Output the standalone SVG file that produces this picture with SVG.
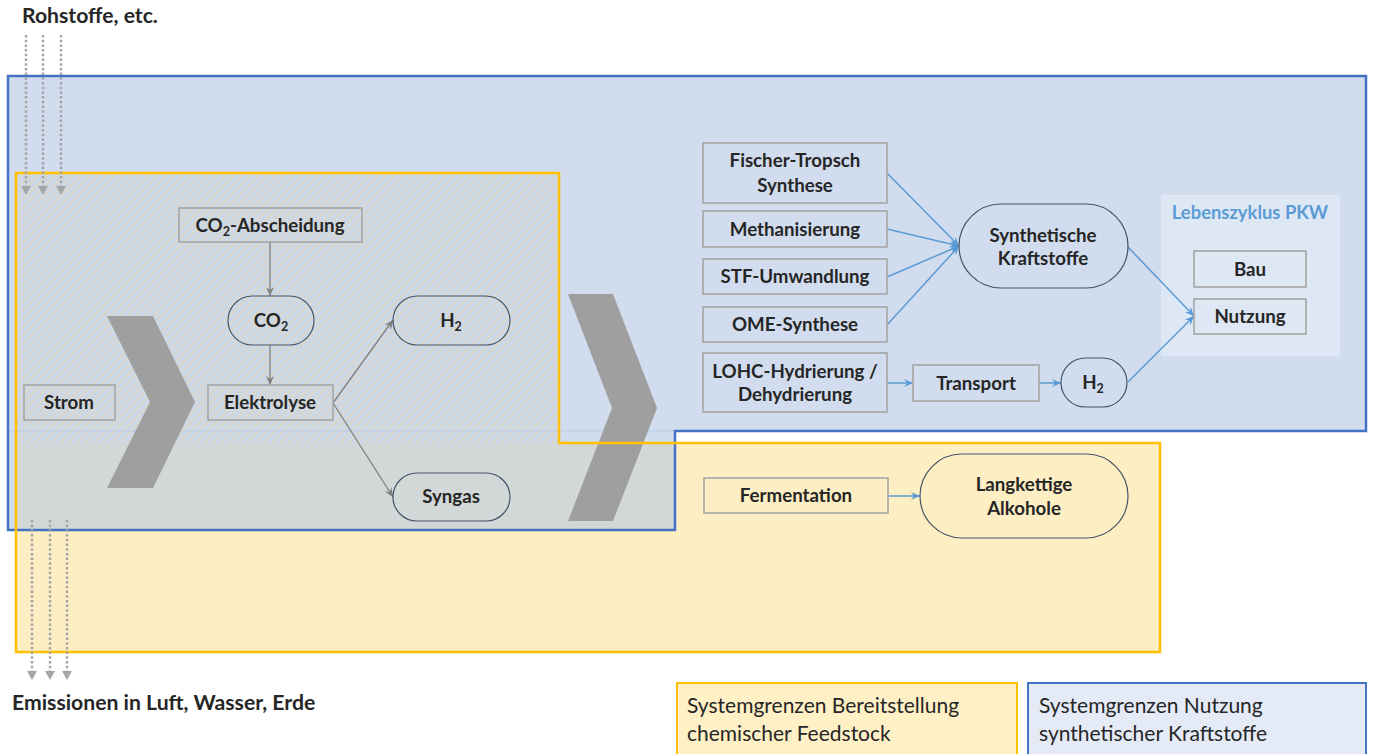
<svg xmlns="http://www.w3.org/2000/svg" width="1373" height="754" viewBox="0 0 1373 754">
<defs>
<style>
.t{font-family:Lato,"Liberation Sans",sans-serif;font-weight:bold;font-size:18.7px;fill:#262626;text-anchor:middle}
.big{font-family:Lato,"Liberation Sans",sans-serif;font-weight:bold;font-size:21.2px;fill:#262626}
.leg{font-family:Lato,"Liberation Sans",sans-serif;font-size:21px;fill:#262626}
.sub{font-size:12.5px}
.box{fill:none;stroke:#a5a5a5;stroke-width:1.6}
.pill{fill:none;stroke:#44546a;stroke-width:1.2}
.ga{stroke:#808080;stroke-width:1.3;fill:none;marker-end:url(#mg)}
.ba{stroke:#5b9bd5;stroke-width:1.5;fill:none;marker-end:url(#mb)}
.dot{stroke:#a6a6a6;stroke-width:2.5;stroke-dasharray:2.5 2.2;fill:none;marker-end:url(#md)}
.chev{fill:#9f9f9f}
</style>
<pattern id="hatch" width="6" height="6" patternUnits="userSpaceOnUse" patternTransform="rotate(45)">
<rect width="6" height="6" fill="#cbd8ea"/>
<rect width="3" height="6" fill="#d6d7d1"/>
</pattern>
<marker id="mg" markerWidth="10" markerHeight="10" refX="9" refY="5" orient="auto" markerUnits="userSpaceOnUse"><path d="M0,1 L9,5 L0,9 L3,5 z" fill="#808080"/></marker>
<marker id="mb" markerWidth="10" markerHeight="10" refX="9" refY="5" orient="auto" markerUnits="userSpaceOnUse"><path d="M0,1 L9,5 L0,9 L3,5 z" fill="#5b9bd5"/></marker>
<marker id="md" markerWidth="12" markerHeight="12" refX="4" refY="5" orient="auto" markerUnits="userSpaceOnUse"><path d="M0,0 L9,5 L0,10 z" fill="#a6a6a6"/></marker>
</defs>
<rect width="1373" height="754" fill="#ffffff"/>
<g id="boundaries">
<polygon points="8,76 1366,76 1366,431 675,431 675,530 8,530" fill="#d1ddee"/>
<polygon points="16,173 559,173 559,443 1160,443 1160,652 16,652" fill="#fdefc3"/>
<rect x="16" y="173" width="543" height="270" fill="url(#hatch)"/>
<rect x="16" y="443" width="659" height="87" fill="#d2d7d8"/>
<line x1="9" y1="431" x2="675" y2="431" stroke="#b8cbe8" stroke-width="1"/>
</g>
<g id="lebenszyklus">
<rect x="1161" y="195" width="179" height="161" fill="#dee7f4"/>
<text x="1250" y="219" style="font-family:Lato,'Liberation Sans',sans-serif;font-weight:bold;font-size:18.4px;fill:#5b9bd5;text-anchor:middle">Lebenszyklus PKW</text>
</g>
<g id="chevrons">
<polygon class="chev" points="107,316 153,316 195,402 153,488 107,488 150,402"/>
<polygon class="chev" points="568,294 613,294 657,408 613,521 568,521 612,408"/>
</g>
<g id="boundary-lines">
<polygon points="8,76 1366,76 1366,431 675,431 675,530 8,530" fill="none" stroke="#4472c4" stroke-width="2.5"/>
<polygon points="16,173 559,173 559,443 1160,443 1160,652 16,652" fill="none" stroke="#ffc000" stroke-width="2.5"/>
</g>
<g id="connectors">
<line class="dot" x1="26" y1="35" x2="26" y2="190"/>
<line class="dot" x1="43" y1="35" x2="43" y2="190"/>
<line class="dot" x1="61" y1="35" x2="61" y2="190"/>
<line class="dot" x1="32" y1="520" x2="32" y2="675"/>
<line class="dot" x1="50" y1="520" x2="50" y2="675"/>
<line class="dot" x1="67" y1="520" x2="67" y2="675"/>
<line class="ga" x1="270" y1="242" x2="270" y2="296"/>
<line class="ga" x1="270" y1="345" x2="270" y2="385"/>
<line class="ga" x1="333" y1="403" x2="393" y2="320"/>
<line class="ga" x1="333" y1="403" x2="393" y2="497"/>
<line class="ba" x1="887" y1="173" x2="959" y2="246"/>
<line class="ba" x1="887" y1="229" x2="959" y2="246"/>
<line class="ba" x1="887" y1="277" x2="959" y2="246"/>
<line class="ba" x1="887" y1="325" x2="959" y2="246"/>
<line class="ba" x1="887" y1="383" x2="913" y2="383"/>
<line class="ba" x1="1039" y1="383" x2="1061" y2="383"/>
<line class="ba" x1="1128" y1="247" x2="1194" y2="316"/>
<line class="ba" x1="1128" y1="382" x2="1194" y2="316"/>
<line class="ba" x1="888" y1="496" x2="920" y2="496"/>
</g>
<g id="rohstoffe"><text class="big" x="22" y="23">Rohstoffe, etc.</text></g>
<g id="emissionen"><text class="big" x="12" y="710">Emissionen in Luft, Wasser, Erde</text></g>
<g id="co2-abscheidung"><rect class="box" x="179" y="208" width="183" height="34"/><text class="t" x="270" y="231.5">CO<tspan class="sub" dy="4">2</tspan><tspan dy="-4">-Abscheidung</tspan></text></g>
<g id="co2"><rect class="pill" x="228" y="296" width="86" height="49" rx="24.5"/><text class="t" x="271" y="327">CO<tspan class="sub" dy="4">2</tspan></text></g>
<g id="h2-left"><rect class="pill" x="393" y="296" width="117" height="49" rx="24.5"/><text class="t" x="451" y="327">H<tspan class="sub" dy="4">2</tspan></text></g>
<g id="elektrolyse"><rect class="box" x="208" y="385" width="125" height="35"/><text class="t" x="270" y="409">Elektrolyse</text></g>
<g id="strom"><rect class="box" x="24" y="385" width="91" height="35"/><text class="t" x="69" y="409">Strom</text></g>
<g id="syngas"><rect class="pill" x="393" y="473" width="117" height="48" rx="24"/><text class="t" x="451" y="503">Syngas</text></g>
<g id="fischer-tropsch"><rect class="box" x="703" y="143" width="184" height="60"/><text class="t" x="795" y="167">Fischer-Tropsch</text><text class="t" x="795" y="192">Synthese</text></g>
<g id="methanisierung"><rect class="box" x="703" y="211" width="184" height="36"/><text class="t" x="795" y="236">Methanisierung</text></g>
<g id="stf-umwandlung"><rect class="box" x="703" y="259" width="184" height="35"/><text class="t" x="795" y="283">STF-Umwandlung</text></g>
<g id="ome-synthese"><rect class="box" x="703" y="307" width="184" height="35"/><text class="t" x="795" y="331">OME-Synthese</text></g>
<g id="lohc"><rect class="box" x="703" y="353" width="184" height="59"/><text class="t" x="795" y="378">LOHC-Hydrierung /</text><text class="t" x="795" y="401">Dehydrierung</text></g>
<g id="transport"><rect class="box" x="913" y="365" width="126" height="36"/><text class="t" x="976" y="389.5">Transport</text></g>
<g id="h2-right"><rect class="pill" x="1061" y="358" width="66" height="49" rx="24.5"/><text class="t" x="1093" y="389">H<tspan class="sub" dy="4">2</tspan></text></g>
<g id="synthetische-kraftstoffe"><rect class="pill" x="959" y="204" width="169" height="84" rx="42"/><text class="t" x="1043" y="242">Synthetische</text><text class="t" x="1043" y="265">Kraftstoffe</text></g>
<g id="bau"><rect class="box" x="1194" y="251" width="112" height="36"/><text class="t" x="1250" y="275.5">Bau</text></g>
<g id="nutzung"><rect class="box" x="1194" y="299" width="112" height="35"/><text class="t" x="1250" y="323">Nutzung</text></g>
<g id="fermentation"><rect class="box" x="704" y="478" width="184" height="35"/><text class="t" x="796" y="502">Fermentation</text></g>
<g id="langkettige-alkohole"><rect class="pill" x="920" y="454" width="208" height="84" rx="42"/><text class="t" x="1024" y="491">Langkettige</text><text class="t" x="1024" y="515">Alkohole</text></g>
<g id="legend-yellow"><rect x="677" y="683" width="340" height="80" fill="#fff0c6" stroke="#ffc000" stroke-width="2"/><text class="leg" x="687" y="713">Systemgrenzen Bereitstellung</text><text class="leg" x="687" y="741">chemischer Feedstock</text></g>
<g id="legend-blue"><rect x="1028" y="683" width="338" height="80" fill="#e4ebf6" stroke="#4472c4" stroke-width="2"/><text class="leg" x="1039" y="713">Systemgrenzen Nutzung</text><text class="leg" x="1039" y="741">synthetischer Kraftstoffe</text></g>
</svg>
